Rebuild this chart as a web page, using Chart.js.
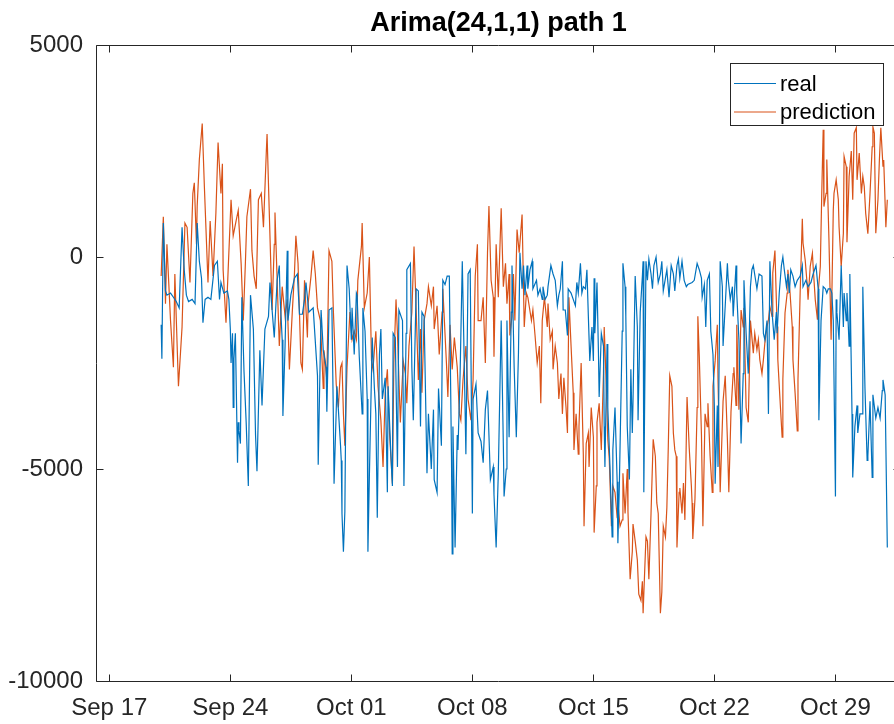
<!DOCTYPE html>
<html><head><meta charset="utf-8">
<script src="https://cdn.jsdelivr.net/npm/chart.js@4.4.0/dist/chart.umd.min.js"></script>
<style>html,body{margin:0;padding:0;background:#fff;overflow:hidden;width:894px;height:724px}canvas{display:block}</style>
</head><body>
<canvas id="c" width="910" height="724"></canvas>
<script>
const chartTitle = "Arima(24,1,1) path 1";
const seriesNames = ["real", "prediction"];
// x axis: hours since Sep 17 00:00
const xTickHours = [0, 168, 336, 504, 672, 840, 1008];
const xTickLabels = ["Sep 17", "Sep 24", "Oct 01", "Oct 08", "Oct 15", "Oct 22", "Oct 29"];
const yTickValues = [-10000, -5000, 0, 5000];

const realHours = [72,73,75,78,80,85,89,93,97,101,104,107,110,115,119,122,125,128,130,133,137,141,146,150,153,155,159,164,166,168,169,171,172,173,175,178,179,180,182,184,187,190,193,196,200,203,205,209,212,216,221,223,229,233,236,237,240,241,244,247,248,252,257,261,264,268,271,273,277,283,289,290,294,297,301,302,305,309,311,312,316,318,321,322,323,325,327,330,333,336,337,340,343,344,347,351,352,355,358,359,361,365,368,370,372,375,377,379,383,386,387,391,393,394,397,400,402,407,409,412,413,418,420,422,426,429,432,434,437,441,443,447,450,451,455,457,461,463,466,469,472,475,476,477,480,483,484,487,490,493,495,498,501,504,505,509,512,516,519,522,525,529,533,534,537,540,544,547,548,551,552,555,558,559,562,565,568,570,573,575,577,580,581,584,587,588,593,595,598,601,602,605,608,609,613,616,619,622,624,626,629,630,633,636,637,641,644,647,649,651,654,656,658,661,663,665,667,670,672,673,674,677,679,680,683,686,687,688,691,692,695,698,699,702,705,706,708,712,713,716,717,719,722,724,726,727,730,733,734,737,740,741,742,745,747,749,752,754,756,759,762,765,767,769,772,774,777,780,783,785,788,790,792,795,798,801,803,809,812,816,819,822,823,826,828,830,833,835,838,840,841,844,845,848,851,852,855,858,859,862,865,866,870,871,874,877,880,881,884,887,890,892,894,899,902,906,908,910,913,915,917,920,923,926,927,930,933,935,937,940,942,944,946,949,952,955,959,962,963,967,970,974,977,981,984,985,988,991,994,996,998,1001,1003,1005,1008,1009,1010,1013,1016,1019,1020,1023,1024,1027,1028,1031,1032,1035,1038,1039,1042,1045,1046,1049,1052,1053,1056,1059,1060,1064,1067,1070,1073,1074,1077,1080];
const realValues = [-1600,-2400,800,-800,-900,-850,-950,-1050,-1200,700,-300,-900,-1050,-1000,-1100,800,-100,-500,-1550,-1000,-950,-1000,-200,-100,-1000,-600,-850,-800,-1000,-1700,-2500,-1800,-3550,-2400,-1800,-4850,-3900,-4100,-4400,-950,-2700,-3900,-5400,-900,-1700,-4200,-5050,-2200,-3500,-1700,-1400,-600,-1900,-550,-200,-900,-1950,-3750,-2100,150,-1500,-900,-500,-400,-1350,-1350,-1000,-600,-1300,-1200,-2800,-4900,-1250,-2200,-2600,-3650,-1250,-1200,-3750,-5350,-3050,-3600,-4450,-4800,-6050,-6950,-6000,-200,-750,-1950,-1200,-2300,-850,-900,-2350,-3700,-1200,-1750,-3350,-6950,-5200,-1900,-3100,-3700,-6150,-2300,-1700,-3350,-2850,-5550,-3050,-4700,-5400,-1800,-1900,-4950,-1250,-1500,-5400,-1800,-300,-150,-2600,-3850,-750,-800,-4000,-1300,-1400,-5100,-3700,-5000,-3600,-5250,-5550,-3100,-4450,-550,-650,-450,-450,-4700,-7000,-4000,-6850,-4200,-4550,-2750,-100,-2750,-4650,-400,-300,-6050,-3350,-3000,-4150,-4350,-4850,-3600,-3150,-5250,-4950,-5600,-6850,-5100,-1500,-4450,-5650,-5000,-1500,-4250,-1300,-200,-2600,-4250,-2250,100,-750,-200,-900,-200,-750,-300,-100,-750,-550,-900,-750,-1000,-700,-1000,-900,-700,-200,-400,-550,-1150,-900,-750,-100,-1250,-1250,-1850,-750,-850,-1000,-1150,-600,-850,-150,-850,-700,-750,-300,-1400,-2450,-1650,-2450,-500,-1800,-600,-2250,-3300,-1800,-2100,-4000,-4950,-2050,-3550,-4950,-6600,-4550,-3550,-5300,-6750,-5400,-1750,-150,-700,-1400,-4000,-5250,-2650,-4150,-3400,-450,-1650,-3850,-1300,-450,-100,-5550,-100,-550,-50,-400,-750,-200,0,-600,-400,-100,-800,-500,-300,-950,-200,-400,-800,-200,-50,-500,-100,-550,-700,-650,-600,-550,-150,-300,-500,-950,-650,-1650,-550,-400,-1750,-2300,-3600,-5350,-3500,-4950,-100,-700,-2100,-1150,-150,-500,-1000,-700,-1400,-200,-850,-1950,-4400,-2750,-550,-1800,-2750,-700,-300,-200,-750,-400,-450,-1800,-1950,-1500,-3700,-100,-1300,-1950,-1300,-1800,-850,-200,0,-300,-700,-400,-850,-300,-450,-700,-550,-450,-200,-700,-550,-700,-600,-400,-200,-750,-3850,-1500,-700,-750,-850,-750,-750,-850,-1500,-5650,-1000,-1300,-1950,-200,-1650,-850,-1500,-850,-2100,-400,-3700,-5200,-4000,-3500,-4150,-3700,-3700,-700,-3100,-4800,-4700,-3400,-5200,-3250,-3800,-3550,-3800,-3150,-2900,-3250,-6850];

const predHours = [72,75,78,80,85,89,91,96,101,105,108,112,116,118,121,122,125,129,132,135,137,140,144,148,151,155,157,158,162,165,169,172,176,179,183,186,189,191,196,198,201,204,207,211,214,218,219,222,226,229,230,233,236,240,244,247,250,254,257,259,262,266,268,271,275,276,280,283,286,289,293,297,298,302,305,309,311,315,318,321,323,325,327,330,334,337,340,343,345,350,351,354,358,361,364,366,370,373,377,380,383,386,389,393,395,398,400,404,408,411,413,416,420,423,426,429,432,434,437,441,443,447,450,451,455,458,462,463,468,470,473,476,479,483,486,488,491,495,498,502,505,508,511,512,516,519,522,525,527,530,533,534,537,540,544,547,550,552,555,556,559,561,563,566,569,573,576,579,581,586,588,591,594,597,599,601,604,608,609,612,615,616,619,622,624,627,629,631,634,636,638,641,644,645,648,651,652,655,658,659,662,665,666,669,672,673,676,677,680,683,686,687,690,692,694,697,699,702,705,706,709,712,713,716,719,720,723,726,727,730,733,735,738,740,741,745,747,749,752,755,758,760,762,765,767,769,772,774,776,778,781,783,785,787,788,791,792,795,797,799,802,805,808,809,810,813,816,817,819,822,824,827,830,831,834,837,838,841,844,845,848,852,855,858,860,863,866,867,870,871,874,877,880,881,884,887,890,894,896,899,901,903,906,908,910,913,915,917,920,921,924,927,928,931,934,935,938,941,942,945,948,949,952,955,956,959,962,963,966,969,970,973,976,977,980,983,984,987,989,991,992,995,996,999,1002,1005,1006,1009,1012,1013,1016,1019,1020,1023,1024,1027,1030,1032,1034,1037,1038,1041,1044,1046,1048,1050,1053,1056,1059,1060,1062,1064,1067,1069,1071,1074,1075,1078,1080];
const predValues = [-450,950,-1100,300,-1500,-2600,-400,-3050,-1650,800,700,-600,1500,1750,300,1200,2300,3150,1650,300,-600,850,-450,1050,2700,1500,2200,-300,-1550,-300,1350,500,850,1100,-150,-1500,-100,950,1600,150,-450,-750,1350,1500,700,2500,2900,1100,-1250,300,1050,-550,-2100,-700,-1400,-1000,-2650,-1300,-400,500,-150,-2500,-2650,-550,-1900,-1100,-450,150,-400,-1200,-1500,-3100,-2200,-2900,150,-100,-1250,-3000,-3550,-2600,-2500,-3700,-4450,-2600,-1300,-1950,-1750,-1950,-550,250,800,-1200,-850,0,-2450,-2650,-1750,-3050,-3850,-4950,-3200,-2650,-4150,-5350,-2500,-1000,-1800,-3900,-2450,-2750,-3450,-2100,-1300,250,-1250,-2900,-1700,-3200,-1500,-1100,-700,-1150,-700,-1700,-1150,-2300,-1300,-750,-2500,-3300,-1600,-2650,-1900,-2600,-3700,-3850,-2900,-2100,-3350,-3850,-2900,-450,300,-1500,-1500,-950,-2500,100,1200,-550,-950,-2350,300,-950,1150,-700,-150,-1100,-400,-1850,-1400,-400,-1500,650,100,1000,-1650,-850,-950,-1500,-1250,-1850,-2500,-2100,-3450,-1500,-950,-1650,-1100,-1950,-1750,-2650,-2100,-2500,-3350,-2750,-3700,-2850,-3550,-4150,-950,-2100,-3200,-4550,-3700,-4650,-4000,-2500,-4650,-6350,-4400,-4150,-4950,-3550,-4250,-6500,-5400,-3900,-3450,-4550,-2750,-1650,-3100,-4300,-4750,-6350,-5400,-5550,-6150,-5800,-6350,-6200,-5100,-6050,-5000,-6000,-7600,-6950,-6300,-6700,-7150,-7950,-8100,-7650,-8400,-6600,-6700,-7600,-6050,-4300,-4700,-5800,-6050,-8400,-7900,-6350,-6600,-5900,-4450,-2800,-3050,-4150,-4550,-4700,-6850,-5550,-5450,-6050,-5330,-6200,-3300,-4500,-5400,-5800,-6650,-5700,-3550,-1400,-2350,-4200,-6350,-3700,-4000,-3450,-4700,-5550,-3050,-2450,-1600,-2900,-5550,-3400,-2800,-4300,-5550,-3650,-2750,-2600,-3500,-1600,-3600,-1250,-1650,-1200,-3550,-3900,-1500,-2270,-1800,-2190,-1950,-2420,-2750,-2420,-2030,-1640,-1480,-1170,-1400,-380,150,-1640,-2420,-3350,-4250,-2890,-1320,-850,-300,-850,-1640,-2420,-3210,-4100,-2890,-850,900,330,-70,-700,-1010,-220,90,-220,-1010,-1480,-850,-220,1500,3000,1190,1500,2300,400,-1950,1110,1500,1820,1350,720,-220,560,2370,2130,350,1900,2500,1350,2920,3050,1820,2450,1500,1900,1660,1030,550,1500,2600,3070,2920,560,1350,2290,3050,2130,2290,700,1350];

const FONT = "'Liberation Sans', Arial, Helvetica, sans-serif";
const AXIS_COLOR = '#262626';
const COLORS = ['#0072BD', '#D95319'];

function toPoints(hours, values) { return hours.map((h, i) => ({ x: h, y: values[i] })); }

const framePlugin = {
  id: 'frame',
  afterDatasetsDraw(chart) {
    const { ctx, chartArea: a, scales } = chart;
    const L = Math.round(a.left) + 0.5, R = Math.round(a.right) - 0.5;
    const T = Math.round(a.top) + 0.5, B = Math.round(a.bottom) + 0.5;
    const tl = 7;
    ctx.save();
    ctx.strokeStyle = AXIS_COLOR; ctx.lineWidth = 1;
    ctx.beginPath();
    ctx.rect(L, T, R - L, B - T);
    xTickHours.forEach(h => {
      const px = Math.round(scales.x.getPixelForValue(h)) + 0.5;
      ctx.moveTo(px, B); ctx.lineTo(px, B - tl);
      ctx.moveTo(px, T); ctx.lineTo(px, T + tl);
    });
    yTickValues.forEach(v => {
      const py = Math.round(scales.y.getPixelForValue(v)) + 0.5;
      ctx.moveTo(L, py); ctx.lineTo(L + tl, py);
      ctx.moveTo(R, py); ctx.lineTo(R - tl, py);
    });
    ctx.stroke();
    ctx.restore();
  }
};

const legendPlugin = {
  id: 'boxLegend',
  afterDraw(chart) {
    const { ctx, chartArea: a } = chart;
    const w = 153, h = 62;
    const right = Math.round(a.right) - 18;
    const left = right - w, top = Math.round(a.top) + 18;
    ctx.save();
    ctx.fillStyle = '#fff';
    ctx.fillRect(left, top, w, h);
    ctx.strokeStyle = AXIS_COLOR; ctx.lineWidth = 1;
    ctx.strokeRect(left + 0.5, top + 0.5, w, h);
    ctx.font = '22px ' + FONT;
    ctx.textBaseline = 'middle';
    ctx.textAlign = 'left';
    chart.data.datasets.forEach((ds, i) => {
      const yy = top + 20.5 + i * 28.5;
      ctx.strokeStyle = ds.borderColor; ctx.lineWidth = 1.2;
      ctx.beginPath(); ctx.moveTo(left + 4, yy); ctx.lineTo(left + 46, yy); ctx.stroke();
      ctx.fillStyle = '#000';
      ctx.fillText(ds.label, left + 50, yy + 1);
    });
    ctx.restore();
  }
};

new Chart(document.getElementById('c'), {
  type: 'line',
  data: {
    datasets: [
      { label: seriesNames[0], data: toPoints(realHours, realValues), borderColor: COLORS[0], backgroundColor: COLORS[0], borderWidth: 1.2, pointRadius: 0, tension: 0, fill: false },
      { label: seriesNames[1], data: toPoints(predHours, predValues), borderColor: COLORS[1], backgroundColor: COLORS[1], borderWidth: 1.2, pointRadius: 0, tension: 0, fill: false }
    ]
  },
  options: {
    responsive: false,
    devicePixelRatio: 1,
    animation: false,
    layout: { padding: { left: 0, right: 9, top: 0, bottom: 0 } },
    plugins: {
      legend: { display: false },
      tooltip: { enabled: false },
      title: {
        display: true, text: chartTitle, fullSize: false, color: '#000',
        font: { family: FONT, size: 27, weight: 'bold' },
        padding: { top: 7, bottom: 5.6 }
      }
    },
    scales: {
      x: {
        type: 'linear', min: -18.46, max: 1099,
        grid: { display: false, drawTicks: false }, border: { display: false },
        afterBuildTicks(scale) { scale.ticks = xTickHours.map(v => ({ value: v })); },
        afterFit(scale) { scale.height = 43; },
        ticks: {
          color: AXIS_COLOR, padding: 13, maxRotation: 0, autoSkip: false,
          font: { family: FONT, size: 24 },
          callback(v) { const i = xTickHours.indexOf(v); return i >= 0 ? xTickLabels[i] : ''; }
        }
      },
      y: {
        type: 'linear', min: -10000, max: 5000,
        grid: { display: false, drawTicks: false }, border: { display: false },
        afterBuildTicks(scale) { scale.ticks = yTickValues.map(v => ({ value: v })); },
        afterFit(scale) { scale.width = 96; },
        ticks: {
          color: AXIS_COLOR, padding: 13,
          font: { family: FONT, size: 24 },
          callback(v) { return String(v); }
        }
      }
    }
  },
  plugins: [framePlugin, legendPlugin]
});
</script>
</body></html>
